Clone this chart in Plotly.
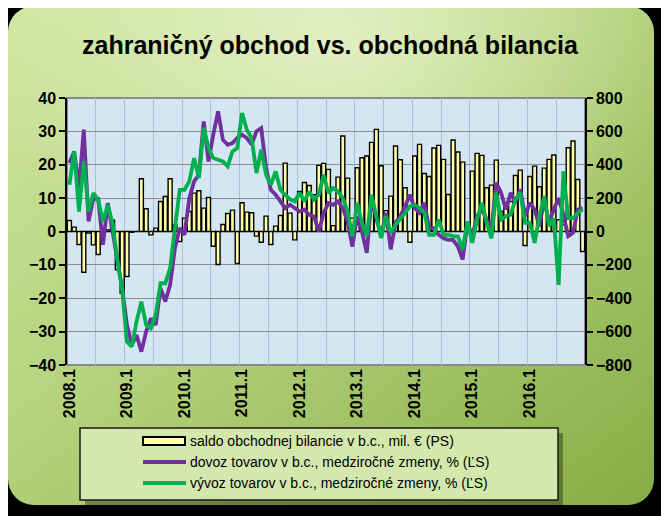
import base64
import plotly.graph_objects as go

# ---------------- data ----------------
tick_labels = ["2008.1", "2009.1", "2010.1", "2011.1", "2012.1",
               "2013.1", "2014.1", "2015.1", "2016.1"]

saldo = [66, 26, -78, -244, -10, -80, -138, -15, 10, 68, -230, -370,
         -270, -5, 0, 316, 136, -20, 20, 180, 210, 316, 40, -60,
         80, 120, 230, 244, 140, 204, -88, -198, 42, 108, 128, -192,
         172, 116, 112, -28, -64, 92, -78, 32, 96, 410, 110, -50,
         240, 294, 276, 220, 396, 408, 372, 35, 326, 572, 320, 80,
         382, 442, 452, 534, 612, 394, 125, 212, 512, 430, 262, -64,
         452, 522, 348, 330, 500, 516, 432, 222, 548, 476, 416, 40,
         362, 468, 456, 262, 278, 428, 120, 160, 180, 336, 368, -84,
         330, 392, 268, 380, 432, 458, 70, 40, 502, 542, 312, -120]

dovoz = [20.5, 24, 13, 30.5, 3, 10, 9.8, -4, 8.5, 0.5, -8, -17,
         -28, -34, -31, -36, -30, -26, -28, -17, -21, -16, -5, 1,
         -1, 10, 15, 17, 33, 21, 29, 36, 27.5, 26, 26.5, 28,
         29, 28, 26, 30, 31, 19, 12.5, 11, 9, 7, 8, 7,
         6, 6.5, 5, 4.5, 0, 5.5, 8.5, 8, 9, 7, 3, -4.5,
         4.6, 0, -6.4, 9.6, 3.6, -1.4, 5.6, -5.4, 2.6, 4.6, 7.6, 11,
         7, 5.6, 8.6, 1, 1, -1, -2, -2.5, -2.5, -4.5, -8.4, 2.6,
         -1.4, 4.6, 6.6, 3.6, 0.6, 14.6, 11.6, 6.6, 11.6, 8.6, 12.6, 4.6,
         8.6, 6.6, 1.6, 9.6, 2.6, 6.6, 10, 5, -1.4, -0.4, 6.6, 7]

vyvoz = [14, 24, 6, 21, 6, 11.5, 9.5, 3, 8, 2.5, -8.5, -17.5,
         -33, -34.5, -27, -21, -28, -29, -25, -15.5, -15.5, -11, 1, 12.5,
         12.5, 15, 22, 16, 31, 25, 22, 21.5, 21, 19.5, 24, 25,
         35.5, 30.5, 28, 17.5, 24.5, 17, 14, 18, 12.5, 11, 9.6, 9,
         11.6, 9, 12, 9.6, 11, 17, 11.5, 13, 12, 10, 6, -1.5,
         8.6, 2.6, -1.4, 11, 4.6, -2, 4.6, -0.4, 2, 3.6, 5.6, 7.6,
         8, 7, 5.6, -1, -1, 3.6, -1, -1, -1.4, -1.5, -5.4, 3,
         -3.4, 3.6, 8.6, 2.6, -2, 11.6, 3.6, 4.6, 5, 9.6, 11.6, 2.6,
         2.6, -3.4, 4.6, 10.6, 1.6, 4, -16, 18, 4, 4, 5.6, 6.6]

left_ticks = [-40, -30, -20, -10, 0, 10, 20, 30, 40]
right_ticks = [-800, -600, -400, -200, 0, 200, 400, 600, 800]

title_text = "zahraničný obchod vs. obchodná bilancia"
legend_texts = ["saldo obchodnej bilancie v b.c., mil. € (PS)",
                "dovoz tovarov v b.c., medziročné zmeny, % (ĽS)",
                "vývoz tovarov v b.c., medziročné zmeny, % (ĽS)"]

# ---------------- geometry ----------------
W, H = 669, 516
OFF = 8  # page body margin compensation
PL, PR, PT, PB = 67 - OFF, 585 - OFF, 98 - OFF, 365 - OFF
PW, PH = PR - PL, PB - PT


def px(x):
    return (x - OFF - PL) / PW


def py(y):
    return (PB - (y - OFF)) / PH


n = len(saldo)
x_idx = list(range(n))
tick_pos = [x_idx[i] for i in range(0, n, 12)]

BAR_FILL = "#ffffa8"
PURPLE = "#7030a0"
GREEN = "#00b050"

fig = go.Figure()
fig.add_trace(go.Bar(x=x_idx, y=saldo, yaxis="y",
                     marker=dict(color=BAR_FILL, line=dict(color="black", width=1.4)),
                     name=legend_texts[0], showlegend=False))
fig.add_trace(go.Scatter(x=x_idx, y=dovoz, yaxis="y2", mode="lines",
                         line=dict(color=PURPLE, width=3.8),
                         name=legend_texts[1], showlegend=False))
fig.add_trace(go.Scatter(x=x_idx, y=vyvoz, yaxis="y2", mode="lines",
                         line=dict(color=GREEN, width=3.8),
                         name=legend_texts[2], showlegend=False))

# background card as svg image
cx0, cy0, cx1, cy1 = 8, 6, 654, 505
cw, ch = cx1 - cx0, cy1 - cy0
card_svg = f'''<svg xmlns="http://www.w3.org/2000/svg" width="{cw}" height="{ch}" viewBox="0 0 {cw} {ch}">
<defs>
<linearGradient id="g" x1="0" y1="0" x2="1" y2="1">
<stop offset="0" stop-color="#cfe6a0"/>
<stop offset="0.45" stop-color="#b4d27c"/>
<stop offset="1" stop-color="#86ad46"/>
</linearGradient>
<radialGradient id="h" cx="0.5" cy="0.05" r="0.55">
<stop offset="0" stop-color="#f0f7d8" stop-opacity="0.75"/>
<stop offset="1" stop-color="#f0f7d8" stop-opacity="0"/>
</radialGradient>
</defs>
<rect x="0" y="0" width="{cw}" height="{ch}" rx="26" ry="26" fill="url(#g)"/>
<rect x="0" y="0" width="{cw}" height="{ch}" rx="26" ry="26" fill="url(#h)"/>
</svg>'''
card_src = "data:image/svg+xml;base64," + base64.b64encode(card_svg.encode("utf-8")).decode()

shapes = []
# plot area background
shapes.append(dict(type="rect", xref="paper", yref="paper", x0=0, x1=1, y0=0, y1=1,
                   fillcolor="#d3e6f1", line=dict(color="#8a8a8a", width=2), layer="below"))
# legend shadow + box
lx0, lx1, ly0, ly1 = 80, 558, 428, 500
shapes.append(dict(type="rect", xref="paper", yref="paper",
                   x0=px(lx0 + 5), x1=px(lx1 + 5), y0=py(ly1 + 5), y1=py(ly0 + 5),
                   fillcolor="rgba(40,50,20,0.45)", line=dict(width=0), layer="below"))
shapes.append(dict(type="rect", xref="paper", yref="paper",
                   x0=px(lx0), x1=px(lx1), y0=py(ly1), y1=py(ly0),
                   fillcolor="#d4e8ad", line=dict(color="#1a1a1a", width=1.5), layer="below"))
# legend symbols
row_y = [441, 462, 483]
sx0, sx1 = 143, 186
shapes.append(dict(type="rect", xref="paper", yref="paper",
                   x0=px(sx0), x1=px(sx1 - 1), y0=py(row_y[0] + 4), y1=py(row_y[0] - 4),
                   fillcolor=BAR_FILL, line=dict(color="black", width=2)))
shapes.append(dict(type="line", xref="paper", yref="paper",
                   x0=px(sx0), x1=px(sx1), y0=py(row_y[1]), y1=py(row_y[1]),
                   line=dict(color=PURPLE, width=4)))
shapes.append(dict(type="line", xref="paper", yref="paper",
                   x0=px(sx0), x1=px(sx1), y0=py(row_y[2]), y1=py(row_y[2]),
                   line=dict(color=GREEN, width=4)))

annotations = []
for t, yy in zip(legend_texts, row_y):
    annotations.append(dict(text=t, xref="paper", yref="paper", x=px(188), y=py(yy),
                            xanchor="left", yanchor="middle", showarrow=False,
                            font=dict(family="Liberation Sans Narrow, Arial Narrow, Liberation Sans",
                                      size=14, color="black")))

tick_font = dict(family="Liberation Sans, Arial, sans-serif", size=16, color="black", weight="bold")

fig.update_layout(
    width=W, height=H,
    margin=dict(l=PL, r=W - PR, t=PT, b=H - PB, pad=0),
    paper_bgcolor="black",
    plot_bgcolor="rgba(0,0,0,0)",
    bargap=0.16,
    showlegend=False,
    title=dict(text=title_text, x=(330 - OFF) / W, xref="container", xanchor="center",
               y=1 - (45 - OFF) / H, yref="container", yanchor="middle",
               font=dict(family="Liberation Sans, Arial, sans-serif", size=25,
                         color="black", weight="bold")),
    xaxis=dict(range=[-0.5, n - 0.5], tickmode="array", tickvals=tick_pos,
               ticktext=tick_labels, tickangle=-90, showgrid=False, zeroline=False,
               ticks="", showline=False, tickfont=tick_font,
               minor=dict(tickmode="linear", tick0=-0.5, dtick=6, showgrid=True,
                          gridcolor="#a9bfdc", gridwidth=1.2, ticks="")),
    yaxis=dict(range=[-800, 800], side="right", tickmode="array", tickvals=right_ticks,
               showgrid=True, gridcolor="#8c8c8c", gridwidth=1, zeroline=False,
               showline=True, linecolor="black", linewidth=1.5,
               ticks="outside", ticklen=6, tickcolor="black", tickwidth=1.5,
               tickfont=tick_font),
    yaxis2=dict(range=[-40, 40], side="left", overlaying="y", tickmode="array",
                tickvals=left_ticks, showgrid=False, zeroline=False,
                showline=True, linecolor="black", linewidth=1.5,
                ticks="outside", ticklen=6, tickcolor="black", tickwidth=1.5,
                tickfont=tick_font),
    images=[dict(source=card_src, xref="paper", yref="paper",
                 x=px(cx0), y=py(cy0), sizex=cw / PW, sizey=ch / PH,
                 xanchor="left", yanchor="top", sizing="stretch", layer="below")],
    shapes=shapes,
    annotations=annotations,
)

fig.write_html("out.html")
